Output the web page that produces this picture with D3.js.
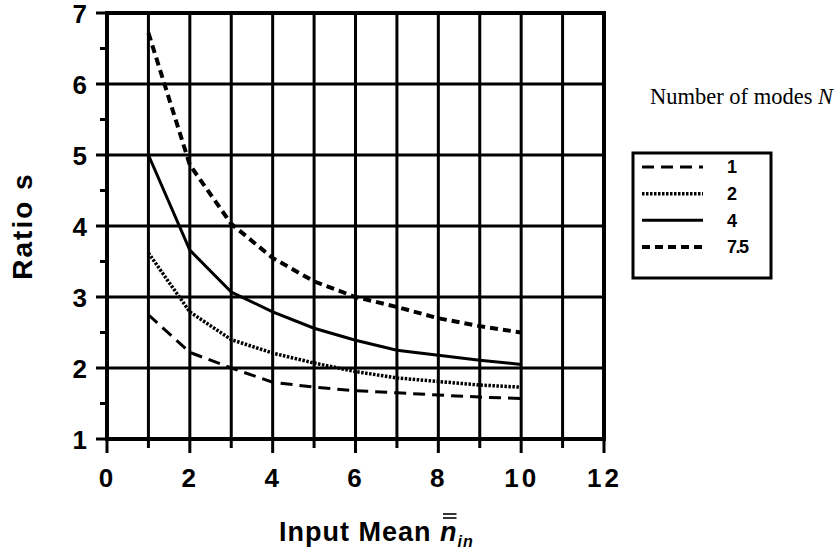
<!DOCTYPE html>
<meta charset="utf-8">
<style>
body { margin: 0; background: #fff; }
text { font-family: "Liberation Sans", Arial, sans-serif; font-weight: bold; fill: #000; }
.grid line { stroke: #000; stroke-width: 3px; }
</style>
<body>
<script src="https://cdn.jsdelivr.net/npm/d3@7"></script>
<script>

var width = 835, height = 555;

// data
var xValues = [1, 2, 3, 4, 5, 6, 7, 8, 9, 10];
var s1  = [2.75, 2.22, 2.00, 1.80, 1.73, 1.68, 1.65, 1.62, 1.59, 1.57];
var s2  = [3.62, 2.79, 2.40, 2.21, 2.07, 1.95, 1.86, 1.81, 1.76, 1.73];
var s4  = [5.00, 3.66, 3.07, 2.79, 2.56, 2.39, 2.25, 2.18, 2.11, 2.05];
var s75 = [6.72, 4.86, 4.03, 3.55, 3.22, 3.00, 2.86, 2.70, 2.59, 2.50];
var seriesNames = ["1", "2", "4", "7.5"];
var xTicks = [0, 2, 4, 6, 8, 10, 12];
var yTicks = [1, 2, 3, 4, 5, 6, 7];

var styles = [
  {dash: "12,7", w: 3},
  {dash: "2.5,1.5", w: 3.5},
  {dash: null, w: 3},
  {dash: "8,5", w: 4}
];
var series = [s1, s2, s4, s75];

var x = d3.scaleLinear().domain([0, 12]).range([107, 604]);
var y = d3.scaleLinear().domain([1, 7]).range([439, 13]);

var svg = d3.select("body").append("svg")
    .attr("width", width)
    .attr("height", height);

var grid = svg.append("g").attr("class", "grid");

// vertical grid lines, every unit, sticking out below the axis
grid.selectAll(".vl")
  .data(d3.range(0, 13))
  .enter().append("line")
  .attr("x1", function(d){ return x(d); })
  .attr("x2", function(d){ return x(d); })
  .attr("y1", y(7))
  .attr("y2", function(d){ return y(1) + (d % 2 == 0 ? 14 : 9); });

// horizontal grid lines, sticking out left of the axis
grid.selectAll(".hl")
  .data(yTicks)
  .enter().append("line")
  .attr("x1", x(0) - 11)
  .attr("x2", x(12))
  .attr("y1", function(d){ return y(d); })
  .attr("y2", function(d){ return y(d); });

// minor ticks on y
grid.selectAll(".mt")
  .data(d3.range(1.5, 7, 1))
  .enter().append("line")
  .attr("x1", x(0) - 7)
  .attr("x2", x(0))
  .attr("y1", function(d){ return y(d); })
  .attr("y2", function(d){ return y(d); });

// frame
svg.append("rect")
  .attr("x", x(0)).attr("y", y(7))
  .attr("width", x(12) - x(0)).attr("height", y(1) - y(7))
  .attr("fill", "none").attr("stroke", "#000").attr("stroke-width", 4);

// curves
var line = d3.line()
  .x(function(d, i){ return x(xValues[i]); })
  .y(function(d){ return y(d); });

series.forEach(function(s, i){
  svg.append("path")
    .attr("d", line(s))
    .attr("fill", "none")
    .attr("stroke", "#000")
    .attr("stroke-width", styles[i].w)
    .attr("stroke-dasharray", styles[i].dash);
});

// tick labels
var xAxis = svg.append("g")
  .attr("transform", "translate(0," + y(1) + ")")
  .call(d3.axisBottom(x).tickValues(xTicks).tickSize(0).tickPadding(30).tickFormat(d3.format("d")));
var yAxis = svg.append("g")
  .attr("transform", "translate(" + x(0) + ",0)")
  .call(d3.axisLeft(y).tickValues(yTicks).tickSize(0).tickPadding(20).tickFormat(d3.format("d")));
[xAxis, yAxis].forEach(function(a){
  a.select(".domain").remove();
  a.selectAll("text")
    .attr("fill", "#000")
    .style("font-size", "26px")
    .style("font-family", "'Liberation Sans', Arial, sans-serif")
    .style("font-weight", "bold");
});
xAxis.selectAll("text").attr("dy", "0.71em").style("letter-spacing", "3px");
yAxis.selectAll("text").attr("dy", "0.36em");

// axis titles
svg.append("text")
  .attr("transform", "translate(32,226) rotate(-90)")
  .attr("text-anchor", "middle")
  .style("font-size", "28px")
  .style("letter-spacing", "2px")
  .text("Ratio s");

var xt = svg.append("text")
  .attr("x", 279).attr("y", 541)
  .style("font-size", "27px")
  .style("letter-spacing", "1px");
xt.append("tspan").text("Input Mean ");
var nSpan = xt.append("tspan").attr("font-style", "italic").text("n");
xt.append("tspan").attr("font-style", "italic").attr("dy", 6).style("font-size", "16px").text("in");
// double bar over n
var nBox = nSpan.node().getExtentOfChar ? xt.node().getExtentOfChar(11) : null;
var bx = nBox ? nBox.x + 3 : 481, bw = nBox ? nBox.width - 4 : 16;
[0, 4].forEach(function(o){
  svg.append("line")
    .attr("x1", bx).attr("x2", bx + bw)
    .attr("y1", 514 + o).attr("y2", 514 + o)
    .attr("stroke", "#000").attr("stroke-width", 1.6);
});

// legend
svg.append("text")
  .attr("x", 650).attr("y", 104)
  .style("font-family", "'Liberation Serif', 'Times New Roman', serif")
  .style("font-weight", "normal")
  .style("font-size", "22.5px")
  .html("Number of modes <tspan font-style='italic'>N</tspan>");

svg.append("rect")
  .attr("x", 633).attr("y", 153)
  .attr("width", 138).attr("height", 125)
  .attr("fill", "none").attr("stroke", "#000").attr("stroke-width", 3);

var legY = d3.scalePoint().domain(seriesNames).range([167, 247]);
seriesNames.forEach(function(n, i){
  svg.append("line")
    .attr("x1", 642).attr("x2", 703)
    .attr("y1", legY(n)).attr("y2", legY(n))
    .attr("stroke", "#000")
    .attr("stroke-width", styles[i].w)
    .attr("stroke-dasharray", styles[i].dash);
  svg.append("text")
    .attr("x", 727).attr("y", legY(n)).attr("dy", "0.36em")
    .style("font-size", "18px")
    .style("letter-spacing", n == "7.5" ? "-1.5px" : "0px")
    .text(n);
});

</script>
</body>
